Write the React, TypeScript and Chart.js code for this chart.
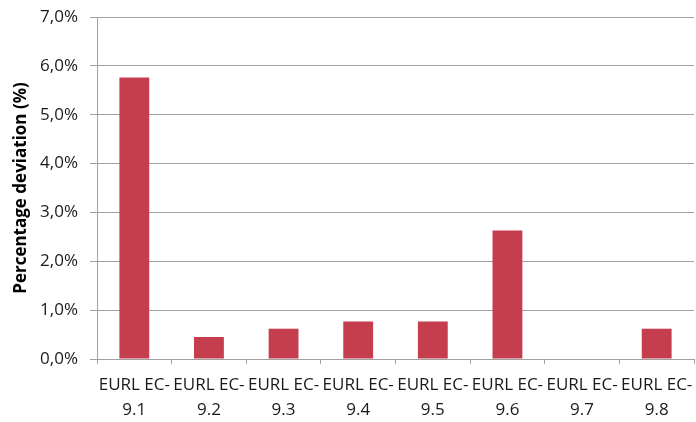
import React, { useEffect, useRef } from "react";
import { Chart, registerables } from "chart.js";

Chart.register(...registerables);

const categories: string[][] = [
  ["EURL EC-", "9.1"],
  ["EURL EC-", "9.2"],
  ["EURL EC-", "9.3"],
  ["EURL EC-", "9.4"],
  ["EURL EC-", "9.5"],
  ["EURL EC-", "9.6"],
  ["EURL EC-", "9.7"],
  ["EURL EC-", "9.8"],
];
const deviations: number[] = [5.76, 0.45, 0.62, 0.77, 0.77, 2.63, 0, 0.62];
const yTitle = "Percentage deviation (%)";

const FONT = "Open Sans, Noto Sans, sans-serif";

export default function App() {
  const ref = useRef<HTMLCanvasElement | null>(null);
  useEffect(() => {
    document.body.style.margin = "0";
    const ctx = ref.current!;
    const chart = new Chart(ctx, {
      type: "bar",
      data: {
        labels: categories,
        datasets: [
          {
            data: deviations,
            backgroundColor: "#C43E4E",
            barPercentage: 0.4,
            categoryPercentage: 1,
          },
        ],
      },
      options: {
        animation: false,
        responsive: false,
        maintainAspectRatio: false,
        layout: { padding: { top: 17, right: 2, left: 0, bottom: 0 } },
        plugins: { legend: { display: false }, tooltip: { enabled: false } },
        scales: {
          x: {
            afterFit: (s: any) => {
              s.height = 63;
              s.paddingLeft = 0;
              s.paddingRight = 0;
            },
            grid: {
              offset: true,
              drawOnChartArea: false,
              drawTicks: true,
              tickLength: 5,
              color: "#a0a0a0",
            },
            border: { color: "#a0a0a0" },
            ticks: {
              color: "#1a1a1a",
              font: { family: FONT, size: 17, lineHeight: 1.47 },
              padding: 9,
              maxRotation: 0,
              autoSkip: false,
            },
          },
          y: {
            min: 0,
            max: 7,
            afterFit: (s: any) => {
              s.width = 97;
              s.paddingTop = 0;
              s.paddingBottom = 0;
            },
            grid: { color: "#a0a0a0", tickLength: 7 },
            border: { color: "#a0a0a0" },
            ticks: {
              stepSize: 1,
              color: "#1a1a1a",
              font: { family: FONT, size: 17 },
              padding: 12,
              callback: (v: any) => Number(v).toFixed(1).replace(".", ",") + "%",
            },
            title: {
              display: true,
              text: yTitle,
              color: "#000",
              font: { family: FONT, size: 17, weight: "bold" },
              padding: { top: 11, bottom: 4 },
            },
          },
        },
      },
    });
    return () => chart.destroy();
  }, []);
  return <canvas ref={ref} width={696} height={422} style={{ display: "block" }} />;
}
